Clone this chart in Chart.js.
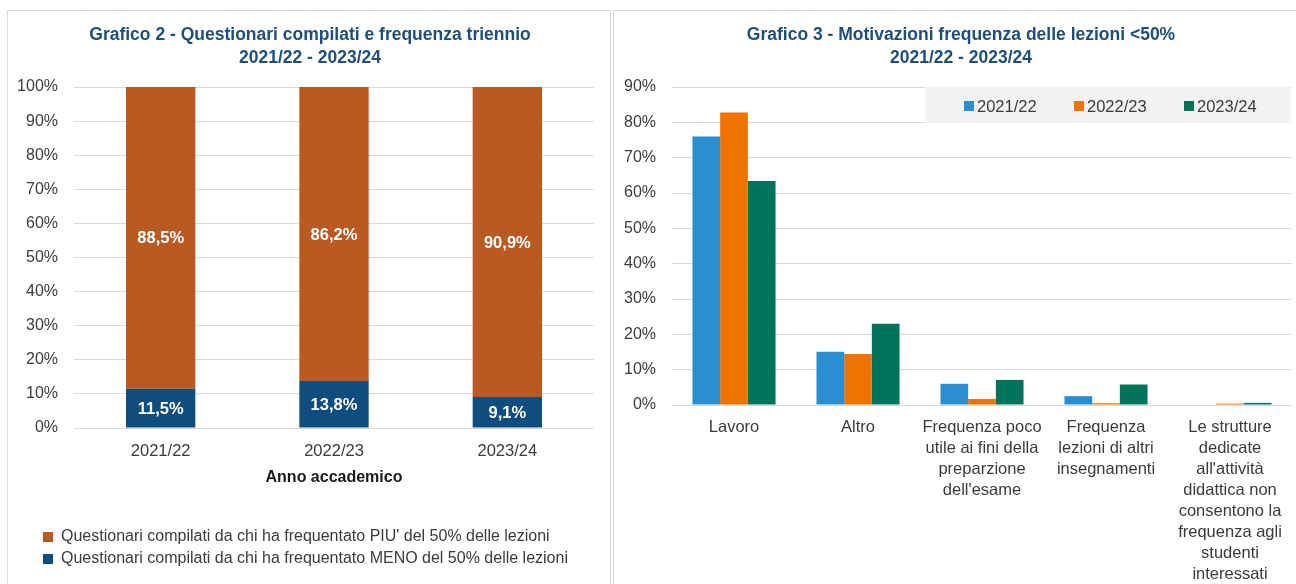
<!DOCTYPE html>
<html>
<head>
<meta charset="utf-8">
<script src="https://cdn.jsdelivr.net/npm/chart.js@4"></script>
<style>
  html, body { margin: 0; padding: 0; background: #ffffff; }
  body { width: 1296px; height: 584px; position: relative; overflow: hidden; font-family: "Liberation Sans", Arial, sans-serif; }
  .panel { position: absolute; border: 1px solid #d9d9d9; box-sizing: border-box; background: #fff; }
  #p1 { left: 7px; top: 10px; width: 604px; height: 600px; }
  #p2 { left: 613px; top: 10px; width: 700px; height: 600px; }
  .cv { position: absolute; }
  #c1wrap { left: 8px; top: 11px; width: 602px; height: 573px; }
  #c2wrap { left: 615px; top: 11px; width: 681px; height: 586px; }
  #leg2 { position: absolute; left: 925px; top: 87px; width: 366px; height: 36px; background: #f2f2f2; }
  .li { position: absolute; top: 1px; height: 36px; line-height: 36px; font-size: 16.5px; color: #3b3b3b; white-space: nowrap; }
</style>
</head>
<body>
<div class="panel" id="p1"></div>
<div class="panel" id="p2"></div>
<div class="cv" id="c1wrap"><canvas id="c1" width="602" height="573"></canvas></div>
<div class="cv" id="c2wrap"><canvas id="c2" width="681" height="586"></canvas></div>
<div id="leg2"></div>
<script>
// ---------- DATA ----------
const years = ['2021/22', '2022/23', '2023/24'];
const menoValues = [11.5, 13.8, 9.1];
const piuValues = [88.5, 86.2, 90.9];
const menoLabel = 'Questionari compilati da chi ha frequentato MENO del 50% delle lezioni';
const piuLabel = "Questionari compilati da chi ha frequentato PIU' del 50% delle lezioni";
const title1 = ['Grafico 2 - Questionari compilati e frequenza triennio', '2021/22 - 2023/24'];
const axisTitle1 = 'Anno accademico';

const motivi = [
  ['Lavoro'],
  ['Altro'],
  ['Frequenza poco', 'utile ai fini della', 'preparzione', "dell'esame"],
  ['Frequenza', 'lezioni di altri', 'insegnamenti'],
  ['Le strutture', 'dedicate', "all'attività", 'didattica non', 'consentono la', 'frequenza agli', 'studenti', 'interessati']
];
const seriesNames = ['2021/22', '2022/23', '2023/24'];
const values2122 = [76.0, 15.1, 6.0, 2.5, 0];
const values2223 = [82.8, 14.4, 1.7, 0.5, 0.4];
const values2324 = [63.4, 23.0, 7.1, 5.8, 0.6];
const title2 = ['Grafico 3 - Motivazioni frequenza delle lezioni <50%', '2021/22 - 2023/24'];

// ---------- STYLE ----------
const FONT = '"Liberation Sans", Arial, sans-serif';
const TXT = '#3b3b3b';
const GRID = '#d9d9d9';
const TITLE_COLOR = '#1f4e79';
const cMeno = '#0e4d7e';
const cPiu = '#b85a22';
const cols2 = ['#2a8fd1', '#f07300', '#00735a'];

const fmt = v => v.toFixed(1).replace('.', ',') + '%';

const barLabels = {
  id: 'barLabels',
  afterDatasetsDraw(chart) {
    const ctx = chart.ctx;
    ctx.save();
    ctx.font = 'bold 16.5px ' + FONT;
    ctx.fillStyle = '#ffffff';
    ctx.textAlign = 'center';
    ctx.textBaseline = 'middle';
    chart.data.datasets.forEach((ds, di) => {
      chart.getDatasetMeta(di).data.forEach((bar, i) => {
        const p = bar.getProps(['x', 'y', 'base'], true);
        ctx.fillText(fmt(ds.data[i]), p.x, (p.y + p.base) / 2 + 1);
      });
    });
    ctx.restore();
  }
};

// shifts title / legend horizontally after layout
const shiftBoxes = (titleDx, legendDx) => ({
  id: 'shiftBoxes',
  afterLayout(chart) {
    if (chart.titleBlock) { chart.titleBlock.left += titleDx; chart.titleBlock.right += titleDx; }
    if (chart.legend && legendDx) { chart.legend.left += legendDx; chart.legend.right += legendDx; }
  }
});

// ---------- CHART 1 ----------
new Chart(document.getElementById('c1'), {
  type: 'bar',
  data: {
    labels: years,
    datasets: [
      { label: menoLabel, data: menoValues, backgroundColor: cMeno, barPercentage: 0.4, categoryPercentage: 1 },
      { label: piuLabel, data: piuValues, backgroundColor: cPiu, barPercentage: 0.4, categoryPercentage: 1 }
    ]
  },
  options: {
    responsive: false,
    animation: false,
    layout: { padding: { left: 0, right: 16, top: 0, bottom: 7 } },
    plugins: {
      title: {
        display: true, text: title1, color: TITLE_COLOR,
        font: { family: FONT, size: 17.5, weight: 'bold', lineHeight: '23px' },
        padding: { top: 12.5, bottom: 17.5 }
      },
      legend: {
        position: 'bottom', align: 'start', reverse: true,
        labels: { boxWidth: 10, boxHeight: 10, padding: 6, color: TXT, font: { family: FONT, size: 16 } }
      },
      tooltip: { enabled: false }
    },
    scales: {
      x: {
        stacked: true,
        grid: { display: false, drawTicks: false },
        border: { display: false },
        ticks: { color: TXT, padding: 12.5, font: { family: FONT, size: 16.5, lineHeight: '21px' } },
        title: { display: true, text: axisTitle1, color: '#1a1a1a', font: { family: FONT, size: 16, weight: 'bold', lineHeight: '21px' }, padding: { top: -6.5, bottom: 34.5 } }
      },
      y: {
        stacked: true, min: 0, max: 100,
        afterFit(s) { s.width = 66; },
        grid: { color: GRID, lineWidth: 1, drawTicks: false },
        border: { display: false },
        ticks: { stepSize: 10, color: TXT, padding: 16, font: { family: FONT, size: 16 }, callback: v => v + '%' }
      }
    }
  },
  plugins: [barLabels, shiftBoxes(9, 29)]
});

// ---------- CHART 2 ----------
new Chart(document.getElementById('c2'), {
  type: 'bar',
  data: {
    labels: motivi,
    datasets: [
      { label: seriesNames[0], data: values2122, backgroundColor: cols2[0] },
      { label: seriesNames[1], data: values2223, backgroundColor: cols2[1] },
      { label: seriesNames[2], data: values2324, backgroundColor: cols2[2] }
    ]
  },
  options: {
    responsive: false,
    animation: false,
    datasets: { bar: { barPercentage: 1, categoryPercentage: 0.67 } },
    layout: { padding: { left: 0, right: 4, top: 0, bottom: 0 } },
    plugins: {
      title: {
        display: true, text: title2, color: TITLE_COLOR,
        font: { family: FONT, size: 17.5, weight: 'bold', lineHeight: '23px' },
        padding: { top: 12.5, bottom: 17.5 }
      },
      legend: { display: false },
      tooltip: { enabled: false }
    },
    scales: {
      x: {
        grid: { display: false, drawTicks: false },
        border: { display: false },
        ticks: { color: TXT, padding: 12, maxRotation: 0, autoSkip: false, font: { family: FONT, size: 16.5, lineHeight: '21px' } }
      },
      y: {
        min: 0, max: 90,
        afterFit(s) { s.width = 57; },
        grid: { color: GRID, lineWidth: 1, drawTicks: false },
        border: { display: false },
        ticks: { stepSize: 10, color: TXT, padding: 16, font: { family: FONT, size: 16 }, callback: v => v + '%' }
      }
    }
  },
  plugins: [shiftBoxes(7.5, 0)]
});

// ---------- HTML legend for chart 2 ----------
const leg = document.getElementById('leg2');
const sqX = [39, 149, 259];
seriesNames.forEach((n, i) => {
  const sq = document.createElement('div');
  sq.style.cssText = 'position:absolute;top:14px;width:10px;height:10px;left:' + sqX[i] + 'px;background:' + cols2[i];
  leg.appendChild(sq);
  const t = document.createElement('div');
  t.className = 'li';
  t.style.left = (sqX[i] + 13) + 'px';
  t.textContent = n;
  leg.appendChild(t);
});
</script>
</body>
</html>
